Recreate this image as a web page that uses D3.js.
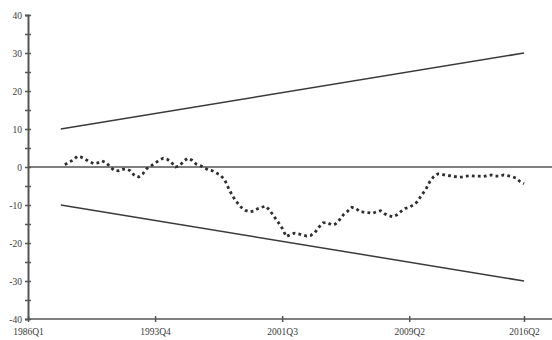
<!DOCTYPE html>
<html>
<head>
<meta charset="utf-8">
<script src="https://cdn.jsdelivr.net/npm/d3@7"></script>
<style>
  html, body { margin: 0; padding: 0; background: #fff; }
  svg { display: block; }
  .tick text { font-family: "Liberation Serif", "DejaVu Serif", serif; font-size: 9.5px; fill: #3a3a3a; }
</style>
</head>
<body>
<svg id="chart" width="552" height="340"></svg>
<script>
// Quarter labels from 1986Q1 to 2016Q2
const firstYear = 1986, lastYear = 2016, lastQ = 2;
const quarters = [];
for (let y = firstYear; y <= lastYear; y++) {
  for (let q = 1; q <= 4; q++) {
    if (y === lastYear && q > lastQ) break;
    quarters.push(y + "Q" + q);
  }
}

// Labelled x ticks
const xTickLabels = ["1986Q1", "1993Q4", "2001Q3", "2009Q2", "2016Q2"];
// y ticks: major every 10 (labelled), minor every 5
const yTicks = [-40, -35, -30, -25, -20, -15, -10, -5, 0, 5, 10, 15, 20, 25, 30, 35, 40];

// CUSUM statistic, 1988Q2 .. 2016Q2
const cusumStart = "1988Q2";
const cusum = [
  0.6, 1.3, 1.8, 2.8, 2.6, 2.0, 1.4, 0.9, 1.1, 1.6,
  1.2, 0.1, -0.9, -1.0, -0.6, -0.5, -1.0, -2.3, -2.6, -1.8,
  -0.4, 0.3, 1.0, 1.8, 2.3, 2.0, 1.2, 0.0, 0.3, 1.6,
  2.3, 1.8, 0.8, 0.4, -0.2, -0.8, -1.0, -1.6, -2.2, -3.4,
  -5.8, -7.8, -9.3, -10.6, -11.4, -11.8, -11.6, -11.0, -10.6, -10.3,
  -11.4, -13.0, -14.5, -16.1, -18.3, -17.8, -17.4, -17.6, -17.9, -18.2,
  -18.0, -17.2, -15.8, -14.7, -14.6, -15.2, -15.0, -13.9, -12.5, -11.6,
  -10.6, -10.9, -11.8, -11.9, -12.0, -12.2, -11.8, -11.5, -12.3, -12.8,
  -13.1, -12.6, -11.7, -10.9, -10.6, -10.0, -9.1, -7.4, -6.0, -3.9,
  -2.5, -1.8, -1.9, -2.2, -2.3, -2.5, -2.7, -2.6, -2.4, -2.3,
  -2.4, -2.4, -2.5, -2.3, -2.1, -2.4, -2.4, -2.1, -2.3, -2.5,
  -2.9, -3.8, -4.4
];

// 5% significance bounds (straight lines between endpoints)
const boundQuarters = ["1988Q1", "2016Q2"];
const upperBound = [10, 30];
const lowerBound = [-10, -30];

const svg = d3.select("#chart");
const x = d3.scalePoint().domain(quarters).range([28, 524]);
const y = d3.scaleLinear().domain([-40, 40]).range([319, 15]);
const axisColor = "#555";

// Reference lines at zero and along the bottom, running to the right edge
[0, -40].forEach(v => {
  svg.append("line")
    .attr("x1", x(quarters[0])).attr("x2", 552)
    .attr("y1", y(v)).attr("y2", y(v))
    .attr("stroke", axisColor).attr("stroke-width", 1.6);
});

// x axis
const gx = svg.append("g")
  .attr("transform", `translate(0,${y(-40)})`)
  .call(d3.axisBottom(x).tickValues(xTickLabels).tickSize(3).tickPadding(6));
gx.select(".domain").remove();
gx.selectAll(".tick line").attr("y1", -3).attr("y2", 3).attr("stroke", axisColor).attr("stroke-width", 1.5);

// y axis
const gy = svg.append("g")
  .attr("transform", `translate(${x(quarters[0])},0)`)
  .call(d3.axisLeft(y).tickValues(yTicks).tickSize(3).tickPadding(3)
    .tickFormat(d => d % 10 === 0 ? d3.format("d")(d).replace("−", "-") : ""));
gy.select(".domain").attr("stroke", axisColor).attr("stroke-width", 2);
gy.selectAll(".tick line").attr("x1", -3).attr("x2", 3).attr("stroke", axisColor).attr("stroke-width", 1.5);

// Bounds
const bline = d3.line().x(d => x(d[0])).y(d => y(d[1]));
[upperBound, lowerBound].forEach(b => {
  svg.append("path")
    .attr("d", bline(boundQuarters.map((q, i) => [q, b[i]])))
    .attr("fill", "none").attr("stroke", "#3a3a3a").attr("stroke-width", 1.5);
});

// CUSUM series, dotted
const startIdx = quarters.indexOf(cusumStart);
const cusumPts = cusum.map((v, i) => [quarters[startIdx + i], v]);
svg.append("path")
  .attr("d", bline(cusumPts))
  .attr("fill", "none").attr("stroke", "#2e2e2e")
  .attr("stroke-width", 2.8)
  .attr("stroke-dasharray", "2.8,3.2");
</script>
</body>
</html>
